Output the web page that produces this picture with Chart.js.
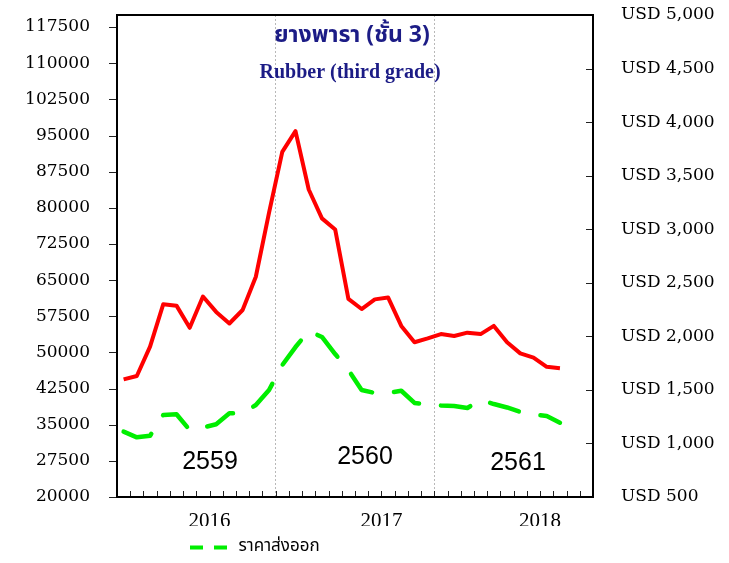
<!DOCTYPE html>
<html><head><meta charset="utf-8">
<script src="https://cdn.jsdelivr.net/npm/chart.js@4.4.0/dist/chart.umd.min.js"></script>
<style>html,body{margin:0;padding:0;background:#fff;} #wrap{width:729px;height:563px;}</style>
</head><body><div id="wrap"><canvas id="c" width="729" height="563"></canvas></div>
<script>
const months = ['Jan 2016','Feb 2016','Mar 2016','Apr 2016','May 2016','Jun 2016','Jul 2016','Aug 2016','Sep 2016','Oct 2016','Nov 2016','Dec 2016',
  'Jan 2017','Feb 2017','Mar 2017','Apr 2017','May 2017','Jun 2017','Jul 2017','Aug 2017','Sep 2017','Oct 2017','Nov 2017','Dec 2017',
  'Jan 2018','Feb 2018','Mar 2018','Apr 2018','May 2018','Jun 2018','Jul 2018','Aug 2018','Sep 2018','Oct 2018','Nov 2018','Dec 2018'];
const yearTickLabels = ['','','','','','','2016','','','','','','','','','','','','','2017','','','','','','','','','','','','2018','','','','',''];
const localPrice = [44400,45100,51200,60000,59700,55100,61600,58400,56000,58800,65700,79000,91600,95900,83800,77800,75500,61100,59000,61000,61400,55500,52100,52900,53800,53400,54100,53800,55500,52100,49800,48900,47000,46700];
const exportPrice = [1110,1057,1072,1266,1272,1125,1149,1179,1281,1284,1359,1499,1732,1900,2050,1994,1835,1686,1499,1471,1471,1492,1378,1364,1354,1350,1331,1406,1368,1336,1294,1270,1256,1194];
const leftTickValues = [20000,27500,35000,42500,50000,57500,65000,72500,80000,87500,95000,102500,110000,117500];
const rightTickValues = [500,1000,1500,2000,2500,3000,3500,4000,4500,5000];
const leftRange = {min:20000, max:120000};
const rightRange = {min:500, max:5000};
const titleThai = 'ยางพารา (ชั้น 3)';
const titleEng = 'Rubber (third grade)';
const beYears = [{text:'2559', x:210, y:462},{text:'2560', x:365, y:457},{text:'2561', x:518, y:463}];
const legendLabel = 'ราคาส่งออก';

const RED = '#ff0000', GREEN = '#00ee00';
const thaiFont = 'Tahoma, "Noto Sans Thai", "Noto Sans", "DejaVu Sans", sans-serif';
const serif = '"DejaVu Serif", serif';

const decor = {
  id:'decor',
  afterLayout(chart){
    const lg = chart.legend;
    if(lg){ const w = lg.right - lg.left; lg.left = 180; lg.right = 180 + w; lg.top += 3; lg.bottom += 3; }
  },
  afterDraw(chart){
    const {ctx, chartArea:a, scales:{x, y, y1}} = chart;
    ctx.save();
    ctx.strokeStyle = '#222'; ctx.lineWidth = 1;
    ctx.beginPath();
    for(let i=1;i<months.length;i++){
      const px = Math.round((x.getPixelForValue(i-1)+x.getPixelForValue(i))/2)+0.5;
      ctx.moveTo(px, a.bottom); ctx.lineTo(px, a.bottom-6);
    }
    y1.ticks.forEach(t=>{const py=Math.round(y1.getPixelForValue(t.value))+0.5; ctx.moveTo(a.right,py); ctx.lineTo(a.right-7,py);});
    y.ticks.forEach(t=>{const py=Math.round(y.getPixelForValue(t.value))+0.5; ctx.moveTo(a.left,py); ctx.lineTo(a.left-8,py);});
    ctx.stroke();
    ctx.lineWidth = 2; ctx.strokeStyle = '#000';
    ctx.strokeRect(a.left, a.top, a.right-a.left, a.bottom-a.top);
    ctx.fillStyle = '#1c1c86'; ctx.textAlign = 'center'; ctx.textBaseline = 'middle';
    ctx.font = 'bold 23px ' + thaiFont;
    ctx.fillText(titleThai, 352, 37);
    ctx.font = 'bold 20px "Liberation Serif", serif';
    ctx.fillText(titleEng, 350, 73);
    ctx.fillStyle = '#000';
    ctx.font = '25px "Liberation Sans", sans-serif';
    beYears.forEach(b=>ctx.fillText(b.text, b.x, b.y));
    ctx.restore();
  }
};

new Chart(document.getElementById('c'), {
  type:'line',
  data:{
    labels: months,
    datasets:[
      {label:'ราคาในประเทศ', data:localPrice, yAxisID:'y', borderColor:RED, backgroundColor:RED, borderWidth:4, pointRadius:0, tension:0, borderJoinStyle:'round'},
      {label:legendLabel, data:exportPrice, yAxisID:'y1', borderColor:GREEN, backgroundColor:GREEN, borderWidth:4.5, borderDash:[30,22], borderCapStyle:'round', pointRadius:0, tension:0, borderJoinStyle:'round'}
    ]
  },
  options:{
    responsive:false, animation:false,
    layout:{padding:{top:15, left:0, right:0, bottom:0}},
    plugins:{
      tooltip:{enabled:false},
      legend:{
        position:'bottom', align:'start',
        labels:{
          usePointStyle:true, pointStyle:'line', pointStyleWidth:40, padding:10,
          color:'#000', font:{family:thaiFont, size:17},
          generateLabels(chart){
            const items = Chart.defaults.plugins.legend.labels.generateLabels(chart);
            return items.filter(i=>i.datasetIndex===1).map(i=>Object.assign(i,{lineDash:[13,11], lineCap:'butt', lineWidth:4, pointStyle:'line', strokeStyle:GREEN, fillStyle:GREEN}));
          }
        }
      }
    },
    scales:{
      x:{
        type:'category', offset:true,
        grid:{offset:true, drawTicks:false, lineWidth:1,
          color:(c)=> (c.index===12||c.index===24) ? '#b8b8b8' : 'rgba(0,0,0,0)'},
        border:{display:false, dash:[2,2]},
        ticks:{autoSkip:false, maxRotation:0, minRotation:0, padding:12, labelOffset:6.6, color:'#000',
          font:{family:'"Liberation Serif", serif', size:21},
          callback:(v,i)=>yearTickLabels[i]},
        afterFit(s){ s.height = 563 - 497 - (s.chart.legend ? s.chart.legend.height : 0); }
      },
      y:{
        position:'left', min:leftRange.min, max:leftRange.max,
        grid:{drawOnChartArea:false, drawTicks:true, tickLength:27, color:'rgba(0,0,0,0)'},
        border:{display:false},
        ticks:{padding:0, color:'#000', font:{family:serif, size:17}, callback:(v)=>String(v)},
        afterBuildTicks(s){ s.ticks = leftTickValues.map(v=>({value:v})); },
        afterFit(s){ s.width = 117; }
      },
      y1:{
        position:'right', min:rightRange.min, max:rightRange.max,
        grid:{drawOnChartArea:false, drawTicks:true, tickLength:28, color:'rgba(0,0,0,0)'},
        border:{display:false},
        ticks:{padding:0, color:'#000', font:{family:serif, size:17},
          callback:(v)=>'USD ' + v.toLocaleString('en-US')},
        afterBuildTicks(s){ s.ticks = rightTickValues.map(v=>({value:v})); },
        afterFit(s){ s.width = 136; }
      }
    }
  },
  plugins:[decor]
});
</script>
</body></html>
